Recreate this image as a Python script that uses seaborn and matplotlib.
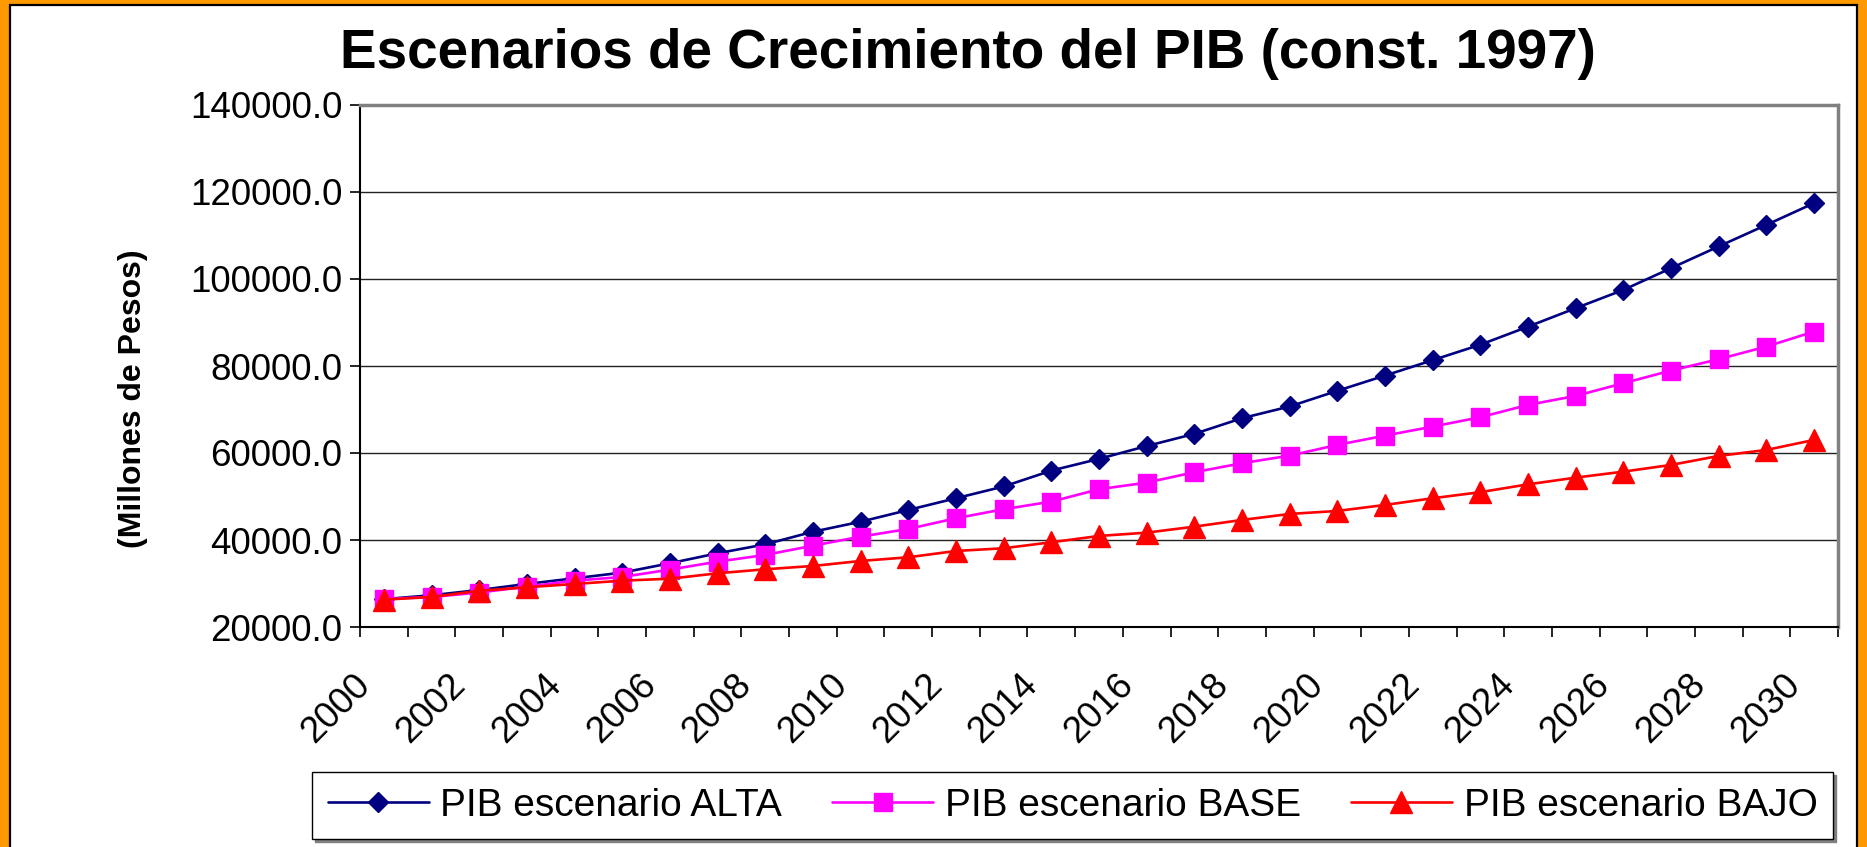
import numpy as np
import pandas as pd
import matplotlib
matplotlib.use("Agg")
import matplotlib.pyplot as plt
import matplotlib.transforms as mtransforms
from matplotlib.patches import Rectangle
from matplotlib.ticker import FormatStrFormatter
import seaborn as sns

# datos
years = list(range(2000, 2031))
pib_alta = [26400, 27300, 28500, 29900, 31200, 32500, 34650, 36950, 39000, 41900,
            44200, 46900, 49600, 52300, 55950, 58650, 61600, 64400, 68000, 70700,
            74300, 77800, 81350, 84900, 89050, 93300, 97500, 102500, 107500, 112450,
            117450]
pib_base = [26440, 26900, 27930, 29270, 30650, 31500, 33200, 35020, 36560, 38700,
            40770, 42540, 45000, 47070, 48820, 51670, 53190, 55580, 57650, 59400,
            61860, 64000, 66070, 68230, 71060, 73130, 76050, 78950, 81570, 84470,
            87920]
pib_bajo = [26280, 26900, 28330, 29130, 29890, 30650, 31100, 32350, 33270, 34030,
            35180, 36030, 37480, 38100, 39480, 40930, 41690, 43070, 44610, 45990,
            46680, 48060, 49600, 51000, 52800, 54340, 55720, 57260, 59330, 60710,
            63010]
series_labels = ["PIB escenario ALTA", "PIB escenario BASE", "PIB escenario BAJO"]
year_ticks = list(range(2000, 2031, 2))
year_labels = [str(y) for y in year_ticks]
y_ticks = [20000, 40000, 60000, 80000, 100000, 120000, 140000]

colors = ["#000080", "#FF00FF", "#FF0000"]
markers = ["D", "s", "^"]
msizes = [10.5, 13.5, 15.5]

df = pd.DataFrame({"Año": years, "ALTA": pib_alta, "BASE": pib_base, "BAJO": pib_bajo})

sns.set_style("white")
plt.rcParams["font.family"] = ["Liberation Sans", "DejaVu Sans"]
plt.rcParams["text.color"] = "black"
plt.rcParams["xtick.color"] = "black"
plt.rcParams["ytick.color"] = "black"
plt.rcParams["axes.labelcolor"] = "black"

W, H = 1867, 847
fig = plt.figure(figsize=(W / 100, H / 100), dpi=100, facecolor="#FF9900")

# marco blanco dentro del borde naranja
fig.add_artist(Rectangle((10 / W, -0.02), (1857 - 10) / W, 1.02 - 5 / H,
                         transform=fig.transFigure, facecolor="white",
                         edgecolor="black", lw=1.6, zorder=-1))

ax = fig.add_axes([360 / W, 1 - 627 / H, (1838 - 360) / W, (627 - 105) / H])

for col, lab, c, mk, ms in zip(["ALTA", "BASE", "BAJO"], series_labels, colors, markers, msizes):
    sns.lineplot(data=df, x="Año", y=col, ax=ax, color=c, marker=mk, markersize=ms,
                 markeredgecolor=c, markeredgewidth=1, linewidth=1.9, label=lab)

ax.set_xlim(1999.5, 2030.5)
ax.set_ylim(20000, 140000)
ax.set_yticks(y_ticks)
ax.yaxis.set_major_formatter(FormatStrFormatter("%.1f"))
ax.set_xticks(year_ticks)
ax.set_xticklabels(year_labels)
ax.set_xticks(np.arange(1999.5, 2031, 1), minor=True)
ax.set_xlabel("")
ax.set_ylabel("")

ax.tick_params(axis="x", which="major", length=0, pad=38, labelsize=26.5, bottom=True)
ax.tick_params(axis="x", which="minor", length=7.2, width=1.2, color="black",
               direction="out", bottom=True)
ax.tick_params(axis="y", length=7.2, width=1.2, color="black", direction="out",
               pad=5.5, labelsize=26.5, left=True)

offset = mtransforms.ScaledTranslation(-19 / 100, 0, fig.dpi_scale_trans)
for lbl in ax.get_xticklabels():
    lbl.set_rotation(45)
    lbl.set_ha("right")
    lbl.set_va("center")
    lbl.set_rotation_mode("anchor")
    lbl.set_transform(lbl.get_transform() + offset)

ax.yaxis.grid(True, color="#222222", lw=1)
ax.set_axisbelow(True)
for s in ["left", "bottom"]:
    ax.spines[s].set_color("black")
    ax.spines[s].set_linewidth(1.5)
for s in ["top", "right"]:
    ax.spines[s].set_color("#808080")
    ax.spines[s].set_linewidth(2.5)

fig.text(968 / W, 1 - 68 / H, "Escenarios de Crecimiento del PIB (const. 1997)",
         ha="center", va="baseline", fontsize=39.5, fontweight="bold")

fig.text(133 / W, 1 - 399 / H, "(Millones de Pesos)", rotation=90, ha="center",
         va="center", fontweight="bold", fontsize=23)

handles, labels = ax.get_legend_handles_labels()
ax.get_legend().remove()
fig.legend(handles, labels, ncol=3, loc="center", mode="expand",
           bbox_to_anchor=(312 / W, 1 - 842 / H, (1833 - 312) / W, 73 / H),
           fontsize=28, handlelength=2.6, handletextpad=0.3, borderaxespad=0,
           frameon=True, fancybox=False, edgecolor="black", framealpha=1,
           shadow={"color": "#808080", "alpha": 1})

fig.savefig("out.png", dpi=100, facecolor=fig.get_facecolor())
